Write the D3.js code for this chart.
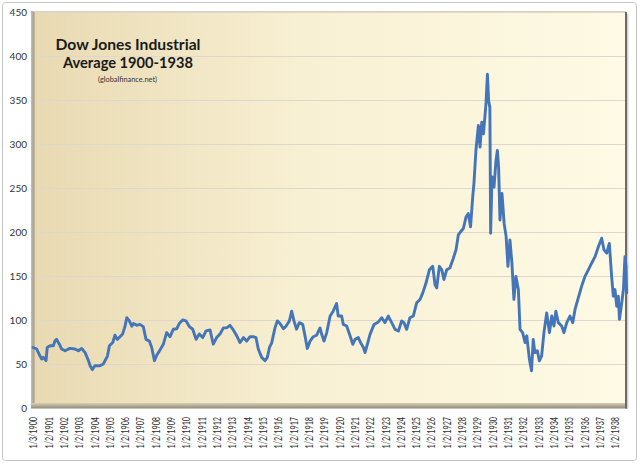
<!DOCTYPE html>
<html>
<head>
<meta charset="utf-8">
<script src="https://cdn.jsdelivr.net/npm/d3@7"></script>
<style>
  html, body { margin: 0; padding: 0; background: #ffffff; }
  svg { display: block; }
</style>
</head>
<body>
<svg id="chart" width="640" height="465"></svg>
<script>
// ---- data ----
const titleLines = ["Dow Jones Industrial", "Average 1900-1938"];
const sourceLabel = "(globalfinance.net)";

const yTicks = [0, 50, 100, 150, 200, 250, 300, 350, 400, 450];

const tickYears = d3.range(1900, 1939);
const tickLabels = tickYears.map(y => (y === 1900 ? "1/3/" : "1/2/") + y);

// decimal year of each traced point
const dates = [
  1900.01, 1900.24, 1900.46, 1900.57, 1900.68, 1900.85, 1900.93, 1901.11, 1901.33, 1901.43,
  1901.54, 1901.72, 1901.87, 1902.09, 1902.41, 1902.74, 1902.96, 1903.18, 1903.40, 1903.62,
  1903.73, 1903.87, 1904.04, 1904.37, 1904.59, 1904.86, 1904.99, 1905.21, 1905.35, 1905.50,
  1905.68, 1905.85, 1906.01, 1906.12, 1906.29, 1906.45, 1906.56, 1906.77, 1906.98, 1907.20,
  1907.38, 1907.60, 1907.75, 1907.93, 1908.08, 1908.29, 1908.51, 1908.73, 1908.95, 1909.16,
  1909.38, 1909.55, 1909.77, 1909.99, 1910.21, 1910.43, 1910.65, 1910.86, 1911.08, 1911.30,
  1911.56, 1911.77, 1911.99, 1912.21, 1912.43, 1912.64, 1912.86, 1913.08, 1913.30, 1913.52,
  1913.74, 1913.95, 1914.17, 1914.38, 1914.56, 1914.71, 1914.93, 1915.15, 1915.30, 1915.44,
  1915.58, 1915.80, 1915.95, 1916.13, 1916.35, 1916.52, 1916.74, 1916.89, 1917.04, 1917.21,
  1917.39, 1917.61, 1917.76, 1917.91, 1918.09, 1918.30, 1918.52, 1918.74, 1918.85, 1919.00,
  1919.18, 1919.40, 1919.60, 1919.82, 1919.93, 1920.15, 1920.26, 1920.48, 1920.70, 1920.88,
  1921.03, 1921.24, 1921.39, 1921.57, 1921.68, 1921.83, 1922.01, 1922.27, 1922.55, 1922.77,
  1922.98, 1923.20, 1923.42, 1923.64, 1923.86, 1924.07, 1924.22, 1924.40, 1924.61, 1924.83,
  1925.05, 1925.27, 1925.45, 1925.66, 1925.88, 1926.10, 1926.25, 1926.36, 1926.53, 1926.69,
  1926.83, 1927.01, 1927.22, 1927.44, 1927.62, 1927.77, 1927.93, 1928.10, 1928.28, 1928.42,
  1928.57, 1928.71, 1928.79, 1928.92, 1929.08, 1929.19, 1929.30, 1929.41, 1929.52, 1929.58,
  1929.67, 1929.75, 1929.83, 1929.88, 1929.97, 1930.10, 1930.23, 1930.32, 1930.40, 1930.49,
  1930.62, 1930.76, 1930.89, 1931.01, 1931.14, 1931.27, 1931.40, 1931.53, 1931.69, 1931.80,
  1931.97, 1932.13, 1932.24, 1932.41, 1932.55, 1932.66, 1932.77, 1932.93, 1933.06, 1933.21,
  1933.36, 1933.54, 1933.72, 1933.87, 1934.01, 1934.14, 1934.30, 1934.52, 1934.67, 1934.85,
  1935.06, 1935.24, 1935.39, 1935.60, 1935.82, 1936.04, 1936.26, 1936.48, 1936.70, 1936.92,
  1937.13, 1937.28, 1937.46, 1937.63, 1937.78, 1937.89, 1938.00, 1938.11, 1938.22, 1938.29,
  1938.44, 1938.55, 1938.65, 1938.72, 1938.76
];

// index value at each traced point
const dowValues = [
  68.8, 67, 59, 55.6, 57.5, 53.8, 68.8, 70.7, 70.7, 76,
  78, 72.5, 67, 65, 67.7, 67, 65, 67.7, 63, 53.8,
  48, 43.6, 48, 48, 50, 59, 70.7, 74.4, 82.7, 78,
  81, 84, 93, 102.6, 98.9, 93, 96, 94, 95, 92.5,
  78, 76, 68.8, 53.8, 60, 66, 72.5, 85.7, 81, 89.5,
  90, 96, 100, 99, 92.5, 89.5, 78, 84, 80, 87.6,
  88.7, 72.5, 80, 84, 91, 91, 94, 88.7, 82, 74.4,
  80, 76, 81, 81, 80, 67, 57.5, 53.8, 57.5, 68.8,
  73.7, 91, 99, 96, 90, 93, 99, 110, 99, 89.5,
  97, 95, 82, 67.7, 76, 81, 82.7, 91, 83.8, 76,
  85.7, 104.5, 110, 118.8, 104.5, 104.5, 95, 93.2, 82, 72.4,
  78, 80, 74.3, 68.7, 63, 72.4, 84, 95, 97.8, 102.6,
  97, 104.5, 97, 89.4, 87.5, 98.8, 97, 89.4, 102.6, 104.5,
  119.5, 123.3, 130.8, 142, 157, 161, 140, 136.5, 161, 157,
  146, 157, 159, 170, 179.8, 196.7, 200.5, 204, 217.4, 221,
  206, 240, 255, 292.7, 321, 296.5, 324.7, 311.5, 334, 347,
  379.3, 349, 341.6, 198.6, 262.6, 251, 281, 292.7, 274, 213.6,
  243.8, 210, 195, 161, 191, 164.8, 123.3, 149.6, 134.6, 89.4,
  85.6, 74.3, 82, 55.5, 42.3, 78, 63, 65, 53.6, 59.3,
  85.6, 108, 85.6, 104.5, 93.2, 110, 97, 93.2, 85.6, 97,
  104.5, 97, 112, 125, 138.3, 149.6, 157, 164.8, 172, 183.5,
  193, 179.8, 176, 187, 149.6, 127, 134.6, 115.7, 127, 100.7,
  119.5, 134.6, 172, 161, 130.8
];

// ---- drawing ----
const svg = d3.select("#chart");
const plot = { left: 33, right: 626, top: 11, bottom: 408 };

const x = d3.scaleLinear().domain([1900, 1938]).range([33, 615]);
const y = d3.scaleLinear().domain([0, 450]).range([408, 12]);

const defs = svg.append("defs");
const wallGrad = defs.append("linearGradient").attr("id", "wall")
  .attr("x1", "0%").attr("y1", "0%").attr("x2", "100%").attr("y2", "0%");
wallGrad.append("stop").attr("offset", "0%").attr("stop-color", "#e8d9b1");
wallGrad.append("stop").attr("offset", "45%").attr("stop-color", "#f8f0d3");
wallGrad.append("stop").attr("offset", "100%").attr("stop-color", "#fefae5");

const sideGrad = defs.append("linearGradient").attr("id", "side")
  .attr("x1", "0%").attr("y1", "0%").attr("x2", "100%").attr("y2", "0%");
sideGrad.append("stop").attr("offset", "0%").attr("stop-color", "#c9c2b2");
sideGrad.append("stop").attr("offset", "100%").attr("stop-color", "#9e9888");

const floorGrad = defs.append("linearGradient").attr("id", "floor")
  .attr("x1", "0%").attr("y1", "0%").attr("x2", "0%").attr("y2", "100%");
floorGrad.append("stop").attr("offset", "0%").attr("stop-color", "#d8ceb2");
floorGrad.append("stop").attr("offset", "100%").attr("stop-color", "#8f897c");

// outer chart border
svg.append("rect")
  .attr("x", 2.5).attr("y", 2.5).attr("width", 634).attr("height", 458)
  .attr("rx", 3).attr("fill", "#ffffff").attr("stroke", "#c6c6c6").attr("stroke-width", 1);

// wall
svg.append("rect")
  .attr("x", plot.left).attr("y", plot.top)
  .attr("width", plot.right - plot.left).attr("height", plot.bottom - plot.top)
  .attr("fill", "url(#wall)");

// left side bevel
svg.append("rect").attr("x", 31).attr("y", plot.top).attr("width", 3.5)
  .attr("height", plot.bottom - plot.top).attr("fill", "url(#side)");
// floor
svg.append("rect").attr("x", 31).attr("y", 403).attr("width", plot.right - 31 + 1)
  .attr("height", 5.5).attr("fill", "url(#floor)");
// right edge
svg.append("line").attr("x1", plot.right).attr("x2", plot.right)
  .attr("y1", plot.top + 1).attr("y2", plot.bottom + 0.5)
  .attr("stroke", "#6f6b63").attr("stroke-width", 2);
svg.append("line").attr("x1", plot.right + 1.8).attr("x2", plot.right + 1.8)
  .attr("y1", plot.top + 3).attr("y2", plot.bottom + 1)
  .attr("stroke", "#bdbdbd").attr("stroke-width", 1);
// top edge
svg.append("line").attr("x1", plot.left).attr("x2", plot.right)
  .attr("y1", plot.top + 0.5).attr("y2", plot.top + 0.5)
  .attr("stroke", "#d9d2bf").attr("stroke-width", 1);

// gridlines
svg.append("g").selectAll("line")
  .data(yTicks.filter(v => v > 0))
  .join("line")
  .attr("x1", plot.left + 2).attr("x2", plot.right - 1)
  .attr("y1", d => Math.round(y(d)) + 0.5).attr("y2", d => Math.round(y(d)) + 0.5)
  .attr("stroke", "#dcd8cd").attr("stroke-width", 1.2);

// y axis labels
const yAxis = d3.axisLeft(y).tickValues(yTicks).tickSize(0).tickPadding(0);
const gy = svg.append("g").attr("transform", "translate(27,0)").call(yAxis);
gy.select(".domain").remove();
gy.selectAll("text")
  .attr("font-family", "Lato, 'Liberation Sans', sans-serif")
  .attr("font-size", 10).attr("fill", "#333333");

// x axis labels (rotated)
const xAxis = d3.axisBottom(x).tickValues(tickYears)
  .tickFormat((d, i) => tickLabels[i]).tickSize(0).tickPadding(0);
const gx = svg.append("g").attr("transform", "translate(0,417)").call(xAxis);
gx.select(".domain").remove();
gx.selectAll("text")
  .attr("transform", "rotate(-90)")
  .attr("text-anchor", "end")
  .attr("x", 0).attr("y", 0).attr("dy", "0.36em")
  .attr("font-family", "Lato, 'Liberation Sans', sans-serif")
  .attr("font-size", 10.5).attr("fill", "#2e2e2e")
  .attr("textLength", 31.5).attr("lengthAdjust", "spacingAndGlyphs");

// the line
const pts = dates.map((d, i) => ({ t: d, v: dowValues[i] }));
const line = d3.line().x(d => x(d.t)).y(d => y(d.v));
svg.append("path")
  .datum(pts)
  .attr("d", line)
  .attr("fill", "none")
  .attr("stroke", "#4375b8")
  .attr("stroke-width", 2.9)
  .attr("stroke-linejoin", "round")
  .attr("stroke-linecap", "round");

// title
const tg = svg.append("g").attr("font-family", "Lato, 'Liberation Sans', sans-serif")
  .attr("fill", "#1a1a1a").attr("text-anchor", "middle");
tg.append("text").attr("x", 128).attr("y", 49.5).attr("font-size", 16).attr("font-weight", "bold")
  .attr("textLength", 145).attr("lengthAdjust", "spacingAndGlyphs").text(titleLines[0]);
tg.append("text").attr("x", 128).attr("y", 68).attr("font-size", 16).attr("font-weight", "bold")
  .attr("textLength", 130).attr("lengthAdjust", "spacingAndGlyphs").text(titleLines[1]);
tg.append("text").attr("x", 127.5).attr("y", 81.5).attr("font-size", 7).attr("fill", "#333")
  .attr("textLength", 59).attr("lengthAdjust", "spacingAndGlyphs").text(sourceLabel);
</script>
</body>
</html>
